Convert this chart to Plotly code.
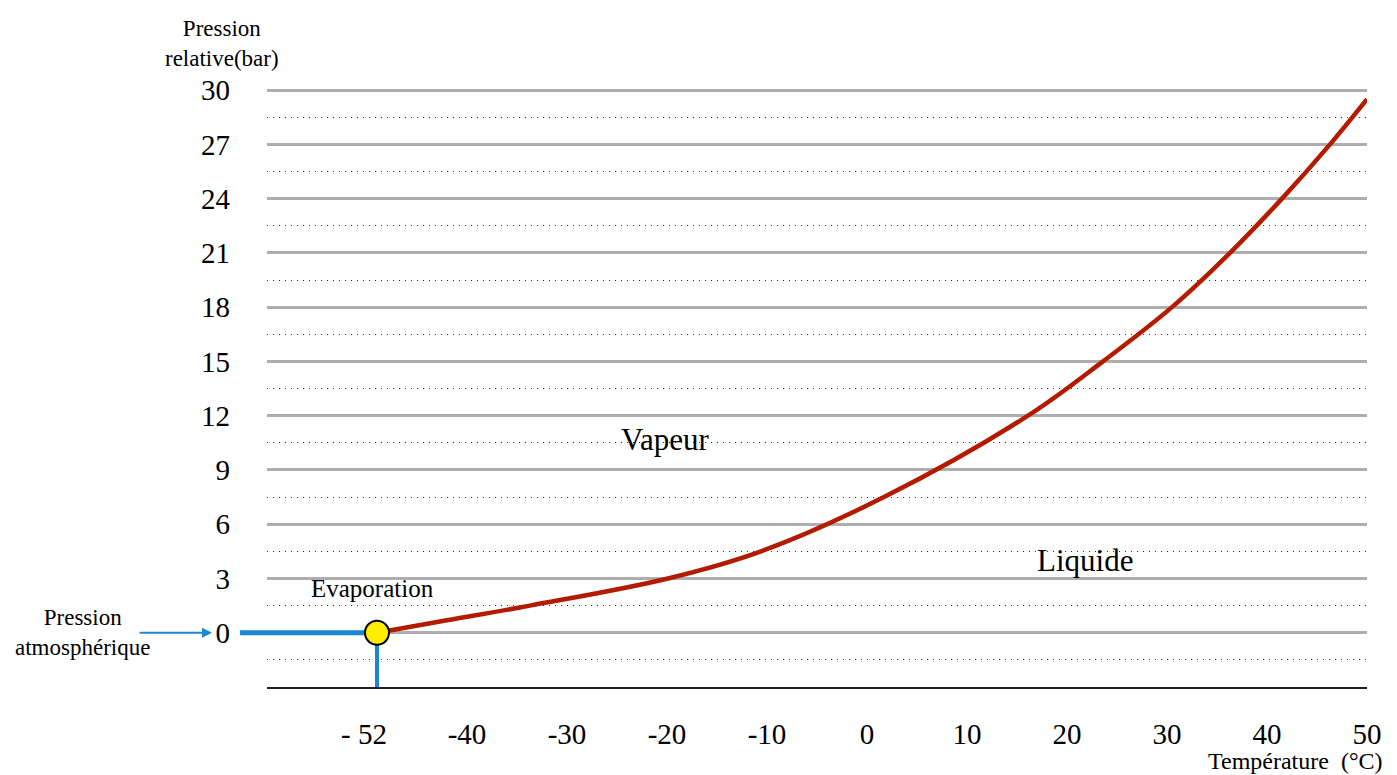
import plotly.graph_objects as go

# Saturation curve (temperature °C -> relative pressure bar)
temperatures = [-49, -42.7, -33.7, -19.9, -10.6, 1.7, 16.1, 23.6, 30.5, 36.3, 41.5, 46.3, 50]
pressures = [0, 0.62, 1.5, 3.0, 4.5, 7.5, 12.0, 15.0, 18.0, 21.0, 24.0, 27.0, 29.5]

# Boiling point at atmospheric pressure
boil_temp = -49
boil_pressure = 0

x_tickvals = [-50.3, -40, -30, -20, -10, 0, 10, 20, 30, 40, 50]
x_ticktext = ["- 52", "-40", "-30", "-20", "-10", "0", "10", "20", "30", "40", "50"]
y_tickvals = [0, 3, 6, 9, 12, 15, 18, 21, 24, 27, 30]
y_ticktext = [str(v) for v in y_tickvals]
y_minor = [-1.5, 1.5, 4.5, 7.5, 10.5, 13.5, 16.5, 19.5, 22.5, 25.5, 28.5]

FONT = "Liberation Serif"
BLUE = "#1B87D4"
RED = "#B31B00"

fig = go.Figure()

fig.add_trace(go.Scatter(x=[-60, boil_temp], y=[boil_pressure, boil_pressure], mode="lines",
                         line=dict(color=BLUE, width=5), hoverinfo="skip", showlegend=False))
fig.add_trace(go.Scatter(x=[boil_temp, boil_temp], y=[boil_pressure, -3.2], mode="lines",
                         line=dict(color=BLUE, width=4), hoverinfo="skip", showlegend=False))
fig.add_trace(go.Scatter(x=temperatures, y=pressures, mode="lines",
                         line=dict(color=RED, width=4.5, shape="spline", smoothing=1.0),
                         showlegend=False))
fig.add_trace(go.Scatter(x=[boil_temp], y=[boil_pressure], mode="markers",
                         marker=dict(color="#FFEE00", size=24, line=dict(color="black", width=2)),
                         cliponaxis=False, showlegend=False))

# Blue line extension left of the plot area
fig.add_shape(type="line", xref="paper", yref="y", x0=-0.0245, x1=0.0, y0=0, y1=0,
              line=dict(color=BLUE, width=5))

annotations = [
    dict(xref="paper", yref="y", x=-0.05, y=0, ax=-74, ay=0, text="", showarrow=True,
         arrowhead=2, arrowsize=1, arrowwidth=2, arrowcolor=BLUE),
    dict(xref="paper", yref="y", x=-0.168, y=0, text="Pression<br>atmosphérique", showarrow=False,
         font=dict(family=FONT, size=23, color="black"), xanchor="center", yanchor="middle"),
    dict(xref="paper", yref="paper", x=-0.0405, y=1.027, text="Pression<br>relative(bar)", showarrow=False,
         font=dict(family=FONT, size=23, color="black"), xanchor="center", yanchor="bottom"),
    dict(xref="x", yref="y", x=-20.2, y=10.7, text="Vapeur", showarrow=False,
         font=dict(family=FONT, size=31, color="black")),
    dict(xref="x", yref="y", x=21.8, y=4.0, text="Liquide", showarrow=False,
         font=dict(family=FONT, size=31, color="black")),
    dict(xref="x", yref="y", x=-49.5, y=2.45, text="Evaporation", showarrow=False,
         font=dict(family=FONT, size=25, color="black")),
    dict(xref="paper", yref="paper", x=1.016, y=-0.124, text="Température  (°C)", showarrow=False,
         font=dict(family=FONT, size=24, color="black"), xanchor="right", yanchor="middle"),
]

fig.update_layout(
    width=1381, height=767,
    margin=dict(l=259, r=22, t=81, b=88),
    paper_bgcolor="white", plot_bgcolor="white",
    font=dict(family=FONT, color="black"),
    annotations=annotations,
    xaxis=dict(range=[-60, 50], tickvals=x_tickvals, ticktext=x_ticktext, showgrid=False,
               zeroline=False, showline=True, linecolor="#222222", linewidth=1.5, automargin=False,
               ticks="", tickfont=dict(family=FONT, size=29, color="black"),
               ticklabelstandoff=20),
    yaxis=dict(range=[-3, 30.06], tickvals=y_tickvals, ticktext=y_ticktext, showgrid=True,
               gridcolor="#AEAEAE", gridwidth=2.5, zeroline=False, showline=False, ticks="",
               automargin=False,
               tickfont=dict(family=FONT, size=29, color="black"), ticklabelstandoff=36,
               minor=dict(tickvals=y_minor, showgrid=True, gridcolor="#333333", gridwidth=1,
                          griddash="1px,5px")),
)

fig.write_html("out.html")
